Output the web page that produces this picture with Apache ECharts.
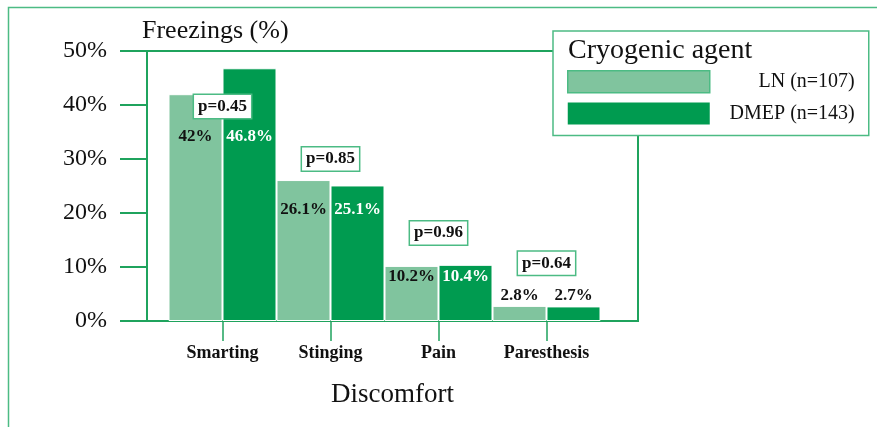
<!DOCTYPE html>
<html>
<head>
<meta charset="utf-8">
<script src="https://cdn.jsdelivr.net/npm/echarts@6/dist/echarts.min.js"></script>
<style>
  html, body { margin: 0; padding: 0; background: #fff; }
  #chart { width: 877px; height: 427px; }
</style>
</head>
<body>
<div id="chart"></div>
<script>
// data
const categories = ["Smarting", "Stinging", "Pain", "Paresthesis"];
const lnValues = [42, 26.1, 10.2, 2.8];
const dmepValues = [46.8, 25.1, 10.4, 2.7];
const pValues = ["0.45", "0.85", "0.96", "0.64"];
const yTicks = [0, 10, 20, 30, 40, 50];

const lnName = "LN (n=107)";
const dmepName = "DMEP (n=143)";

// colours
const lightGreen = "#80c49e";
const darkGreen = "#009b50";
const lineGreen = "#1fa35d";
const paleLine = "#4cbb84";

// label placement (px from bar top), and level of the p-value boxes
const lnLabelDy = [42, 30, 11, -10];
const dmepLabelDy = [68, 24.5, 12, -10.5];
const pBoxLevel = [39.7, 30, 16.3, 10.7];

const serif = "Liberation Serif";

const chart = echarts.init(document.getElementById("chart"));

const valueLabel = (dy, colors) => dy.map((d, i) => ({
  show: true,
  position: ["50%", d],
  align: "center",
  verticalAlign: "middle",
  color: colors[i],
  fontFamily: serif,
  fontWeight: "bold",
  fontSize: 17
}));
const lnLabels = valueLabel(lnLabelDy, ["#111", "#111", "#111", "#111"]);
const dmepLabels = valueLabel(dmepLabelDy, ["#fff", "#fff", "#fff", "#111"]);

const option = {
  animation: false,
  graphic: [{
    type: "rect",
    left: 6, top: 5,
    shape: { width: 900, height: 450 },
    style: { fill: "none", stroke: paleLine, lineWidth: 1.5 },
    silent: true
  }],
  title: [
    {
      text: "Freezings (%)",
      left: 142, top: 18, padding: 0,
      textStyle: { fontFamily: serif, fontWeight: "normal", fontSize: 26, color: "#111" }
    },
    {
      text: "Cryogenic agent",
      left: 568, top: 37, padding: 0,
      textStyle: { fontFamily: serif, fontWeight: "normal", fontSize: 28, color: "#111" }
    }
  ],
  legend: {
    orient: "vertical",
    left: 553, top: 31,
    padding: [39, 14, 11, 14],
    itemWidth: 142,
    itemHeight: 22,
    itemGap: 9,
    icon: "rect",
    backgroundColor: "#fff",
    borderColor: paleLine,
    borderWidth: 1.5,
    data: [
      { name: lnName, itemStyle: { borderColor: paleLine, borderWidth: 1.5 } },
      { name: dmepName, itemStyle: { borderWidth: 0 } }
    ],
    formatter: name => "{t|" + name + "}",
    textStyle: {
      rich: { t: { width: 140, align: "right", fontFamily: serif, fontSize: 20, color: "#111" } }
    }
  },
  grid: [
    { left: 147, right: 239, top: 51, bottom: 106, show: true, borderColor: lineGreen, borderWidth: 2 },
    { left: 168.5, right: 276.5, top: 51, bottom: 106 }
  ],
  xAxis: [
    {
      gridIndex: 0,
      type: "value",
      min: 0, max: 1,
      axisLine: { show: false },
      axisTick: { show: false },
      axisLabel: { show: false },
      splitLine: { show: false },
      name: "Discomfort",
      nameLocation: "middle",
      nameGap: 60,
      nameTextStyle: { fontFamily: serif, fontSize: 27, color: "#111" }
    },
    {
      gridIndex: 1,
      type: "category",
      data: categories,
      axisLine: { show: false },
      axisTick: { show: true, alignWithLabel: true, interval: 0, length: 20, lineStyle: { color: lineGreen, width: 1.5 } },
      axisLabel: { interval: 0, margin: 23, fontFamily: serif, fontWeight: "bold", fontSize: 18, color: "#111" }
    }
  ],
  yAxis: [
    {
      gridIndex: 0,
      type: "value",
      min: 0, max: 50, interval: 10,
      axisLine: { show: true, lineStyle: { color: lineGreen, width: 2 } },
      axisTick: { show: true, length: 27, lineStyle: { color: lineGreen, width: 2 } },
      axisLabel: {
        margin: 40,
        fontFamily: serif, fontSize: 24, color: "#111",
        formatter: v => (yTicks.includes(v) ? v + "%" : "")
      },
      splitLine: { show: false }
    },
    {
      gridIndex: 1,
      type: "value",
      min: 0, max: 50,
      show: false
    }
  ],
  series: [
    {
      name: lnName,
      type: "bar",
      xAxisIndex: 1, yAxisIndex: 1,
      barGap: 0,
      barCategoryGap: 0,
      itemStyle: { color: lightGreen, borderColor: "#fff", borderWidth: 1 },
      data: lnValues.map((v, i) => ({ value: v, label: lnLabels[i] })),
      label: { formatter: p => p.value + "%" }
    },
    {
      name: dmepName,
      type: "bar",
      xAxisIndex: 1, yAxisIndex: 1,
      barGap: 0,
      barCategoryGap: 0,
      itemStyle: { color: darkGreen, borderColor: "#fff", borderWidth: 1 },
      data: dmepValues.map((v, i) => ({ value: v, label: dmepLabels[i] })),
      label: { formatter: p => p.value + "%" }
    },
    {
      name: "p",
      type: "scatter",
      xAxisIndex: 1, yAxisIndex: 1,
      symbolSize: 0,
      silent: true,
      z: 5,
      itemStyle: { opacity: 1 },
      data: categories.map((c, i) => [c, pBoxLevel[i], pValues[i]]),
      label: {
        show: true,
        position: "inside",
        formatter: p => "p=" + p.value[2],
        fontFamily: serif, fontWeight: "bold", fontSize: 17, color: "#111",
        backgroundColor: "#fff",
        borderColor: paleLine,
        borderWidth: 1.5,
        padding: [3, 4, 3, 4]
      }
    }
  ]
};

chart.setOption(option);
</script>
</body>
</html>
